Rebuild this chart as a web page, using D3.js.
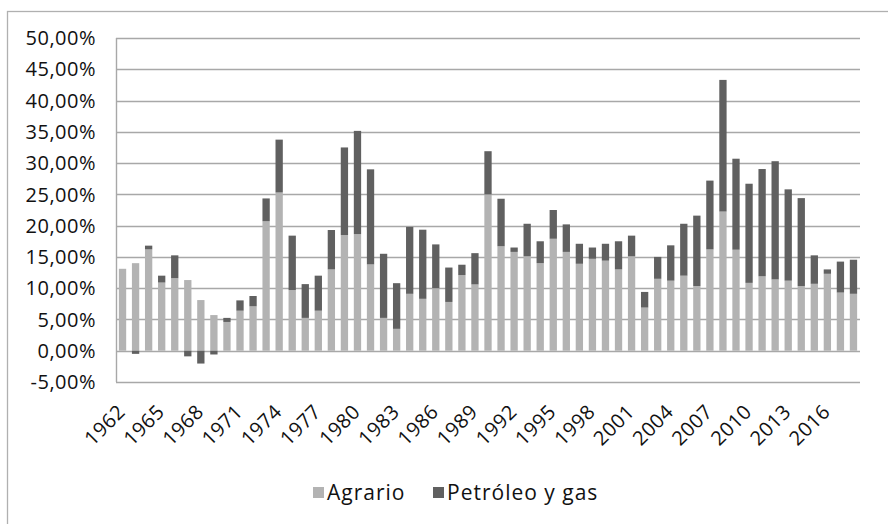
<!DOCTYPE html>
<html>
<head>
<meta charset="utf-8">
<script src="https://cdn.jsdelivr.net/npm/d3@7"></script>
<style>
  body { margin: 0; background: #fff; }
  svg text { font-family: "Open Sans", sans-serif; fill: #111; }
</style>
</head>
<body>
<svg width="888" height="524"></svg>
<script>
// years 1962..2018
var years = d3.range(1962, 2019);

var agrario = [
    13.1, 14.0, 16.2, 10.9, 11.6, 11.3, 8.1, 5.7, 4.6, 6.4,
    7.1, 20.7, 25.3, 9.7, 5.25, 6.4, 13.0, 18.5, 18.65, 13.8,
    5.25, 3.5, 9.1, 8.3, 10.0, 7.8, 12.1, 10.6, 25.0, 16.7,
    15.8, 15.1, 14.0, 17.9, 15.8, 13.9, 14.7, 14.4, 13.0, 15.1,
    6.9, 11.5, 11.2, 12.0, 10.35, 16.2, 22.25, 16.15, 10.85, 11.9,
    11.4, 11.2, 10.35, 10.7, 12.3, 9.3, 9.1
];

var petroleo = [
    0, -0.5, 0.6, 1.1, 3.65, -0.9, -2.05, -0.6, 0.65, 1.65,
    1.65, 3.65, 8.45, 8.7, 5.4, 5.6, 6.3, 14.0, 16.5, 15.2,
    10.25, 7.3, 10.7, 11.05, 7.0, 5.5, 1.65, 5.0, 6.9, 7.6,
    0.7, 5.2, 3.5, 4.6, 4.4, 3.2, 1.8, 2.7, 4.5, 3.3,
    2.5, 3.5, 5.65, 8.3, 11.25, 11.0, 21.05, 14.55, 15.85, 17.15,
    18.9, 14.6, 14.05, 4.55, 0.7, 4.95, 5.45
];

var seriesNames = ["Agrario", "Petróleo y gas"];
var seriesColors = ["#b3b3b3", "#606060"];
var yTicks = [-5, 0, 5, 10, 15, 20, 25, 30, 35, 40, 45, 50];

var svg = d3.select("svg");
var margin = { left: 116, right: 28, top: 38, bottom: 142 };
var width = +svg.attr("width");
var height = +svg.attr("height");

// outer chart frame (runs off the right and bottom edges)
svg.append("rect")
    .attr("x", 7.5).attr("y", 11.5)
    .attr("width", 900).attr("height", 600)
    .attr("fill", "none")
    .attr("stroke", "#b0b0b0")
    .attr("stroke-width", 1.3);

var x = d3.scaleBand()
    .domain(years)
    .range([margin.left, width - margin.right])
    .paddingInner(0.44)
    .paddingOuter(0.22);

var y = d3.scaleLinear()
    .domain([-5, 50])
    .range([height - margin.bottom, margin.top]);

var table = years.map(function(yr, i) {
    return { year: yr, "Agrario": agrario[i], "Petróleo y gas": petroleo[i] };
});

var stack = d3.stack()
    .keys(seriesNames)
    .offset(d3.stackOffsetDiverging);

// grid
svg.append("g")
    .attr("class", "grid")
    .selectAll("line")
    .data(yTicks)
    .enter().append("line")
        .attr("x1", margin.left)
        .attr("x2", width - margin.right)
        .attr("y1", function(d) { return Math.round(y(d)) + 0.5; })
        .attr("y2", function(d) { return Math.round(y(d)) + 0.5; })
        .attr("stroke", "#a8a8a8")
        .attr("stroke-width", 1.4);

svg.append("line")
    .attr("x1", margin.left + 0.5).attr("x2", margin.left + 0.5)
    .attr("y1", y(50)).attr("y2", y(-5))
    .attr("stroke", "#a8a8a8")
    .attr("stroke-width", 1.4);

// bars
svg.append("g")
    .selectAll("g")
    .data(stack(table))
    .enter().append("g")
        .attr("fill", function(d, i) { return seriesColors[i]; })
    .selectAll("rect")
    .data(function(d) { return d; })
    .enter().append("rect")
        .attr("x", function(d) { return x(d.data.year); })
        .attr("width", x.bandwidth())
        .attr("y", function(d) { return y(Math.max(d[0], d[1])); })
        .attr("height", function(d) { return Math.abs(y(d[0]) - y(d[1])); });

// y axis labels
var fmt = function(v) { return v.toFixed(2).replace(".", ",") + "%"; };
svg.append("g")
    .attr("class", "y-labels")
    .selectAll("text")
    .data(yTicks)
    .enter().append("text")
        .attr("x", 96)
        .attr("y", function(d) { return y(d); })
        .attr("dy", "0.36em")
        .attr("text-anchor", "end")
        .attr("font-size", 20)
        .attr("letter-spacing", 0.5)
        .text(fmt);

// x labels every 3 years
var xLabels = years.filter(function(d) { return (d - 1962) % 3 === 0; });
svg.append("g")
    .attr("class", "x-labels")
    .selectAll("text")
    .data(xLabels)
    .enter().append("text")
        .attr("transform", function(d) {
            var cx = x(d) + x.bandwidth() / 2 + 4;
            return "translate(" + cx + "," + (y(-5) + 31) + ") rotate(-45)";
        })
        .attr("text-anchor", "end")
        .attr("font-size", 20)
        .attr("letter-spacing", 0.5)
        .text(function(d) { return d; });

// legend
var legend = svg.append("g").attr("class", "legend");
var legendX = [313, 433];
seriesNames.forEach(function(name, i) {
    legend.append("rect")
        .attr("x", legendX[i]).attr("y", 487)
        .attr("width", 11).attr("height", 11)
        .attr("fill", seriesColors[i]);
    legend.append("text")
        .attr("x", legendX[i] + 14).attr("y", 500)
        .attr("font-size", 21)
        .attr("letter-spacing", 1)
        .text(name);
});
</script>
</body>
</html>
